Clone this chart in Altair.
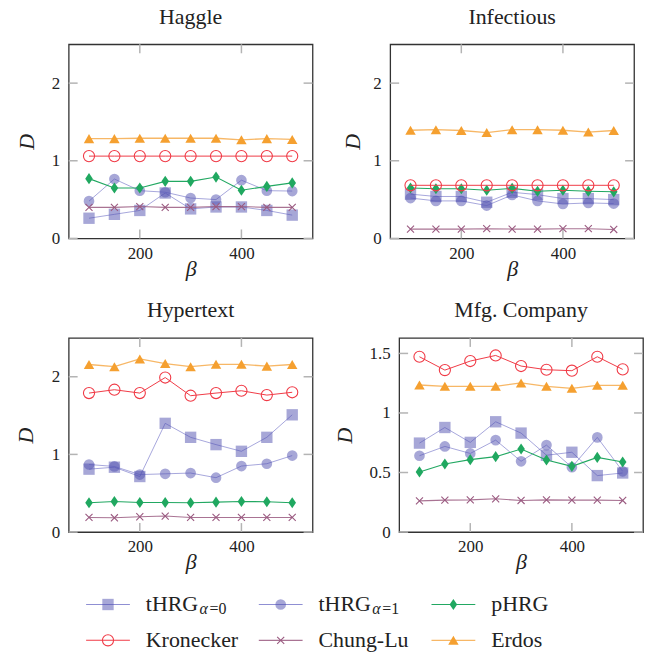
import altair as alt
import pandas as pd

# ---------------- data ----------------
beta = [100, 150, 200, 250, 300, 350, 400, 450, 500]
series = ["tHRG0", "tHRG1", "pHRG", "Kronecker", "Chung-Lu", "Erdos"]

haggle_thrg0 = [0.26, 0.31, 0.36, 0.585, 0.38, 0.405, 0.405, 0.36, 0.30]
haggle_thrg1 = [0.48, 0.765, 0.615, 0.595, 0.52, 0.50, 0.75, 0.615, 0.61]
haggle_phrg = [0.77, 0.65, 0.65, 0.735, 0.735, 0.79, 0.62, 0.67, 0.715]
haggle_kron = [1.06, 1.06, 1.06, 1.06, 1.06, 1.06, 1.06, 1.06, 1.06]
haggle_chung = [0.40, 0.40, 0.41, 0.40, 0.40, 0.41, 0.41, 0.40, 0.40]
haggle_erdos = [1.285, 1.285, 1.29, 1.29, 1.29, 1.29, 1.27, 1.285, 1.275]

infect_thrg0 = [0.57, 0.54, 0.54, 0.466, 0.594, 0.564, 0.513, 0.513, 0.50]
infect_thrg1 = [0.52, 0.483, 0.483, 0.423, 0.56, 0.483, 0.444, 0.457, 0.449]
infect_phrg = [0.65, 0.64, 0.64, 0.62, 0.645, 0.607, 0.62, 0.607, 0.60]
infect_kron = [0.684, 0.684, 0.684, 0.684, 0.684, 0.684, 0.684, 0.684, 0.684]
infect_chung = [0.12, 0.12, 0.12, 0.125, 0.12, 0.12, 0.125, 0.125, 0.115]
infect_erdos = [1.393, 1.40, 1.39, 1.363, 1.40, 1.40, 1.393, 1.37, 1.39]

hyper_thrg0 = [0.81, 0.835, 0.715, 1.40, 1.22, 1.126, 1.04, 1.22, 1.51]
hyper_thrg1 = [0.87, 0.845, 0.74, 0.75, 0.76, 0.70, 0.85, 0.88, 0.985]
hyper_phrg = [0.377, 0.394, 0.38, 0.38, 0.377, 0.385, 0.394, 0.39, 0.377]
hyper_kron = [1.79, 1.833, 1.79, 1.99, 1.756, 1.79, 1.82, 1.764, 1.80]
hyper_chung = [0.188, 0.184, 0.197, 0.206, 0.188, 0.188, 0.188, 0.188, 0.188]
hyper_erdos = [2.158, 2.13, 2.23, 2.17, 2.13, 2.16, 2.16, 2.137, 2.158]

mfg_thrg0 = [0.747, 0.878, 0.753, 0.926, 0.831, 0.645, 0.67, 0.474, 0.496]
mfg_thrg1 = [0.641, 0.719, 0.66, 0.772, 0.594, 0.73, 0.544, 0.795, 0.51]
mfg_phrg = [0.505, 0.571, 0.608, 0.633, 0.697, 0.605, 0.552, 0.627, 0.588]
mfg_kron = [1.472, 1.36, 1.436, 1.483, 1.394, 1.363, 1.355, 1.472, 1.366]
mfg_chung = [0.262, 0.268, 0.27, 0.279, 0.265, 0.27, 0.268, 0.268, 0.265]
mfg_erdos = [1.235, 1.224, 1.224, 1.224, 1.252, 1.224, 1.207, 1.232, 1.232]

x_ticks = [200, 400]
y_ticks_main = [0, 1, 2]
y_ticks_mfg = [0, 0.5, 1, 1.5]

legend_labels = ["tHRG", "tHRG", "pHRG", "Kronecker", "Chung-Lu", "Erdos"]
legend_subs = ["=0", "=1", "", "", "", ""]
legend_col = [0, 1, 2, 0, 1, 2]
legend_row = [0, 0, 0, 1, 1, 1]

# ---------------- styles ----------------
FONT = "Liberation Serif"
TICK = "#b4b4b4"
W, H = 245, 195
TL = 9

style = {
    "tHRG0": dict(lc="#6a6ac4", lw=0.8, lo=0.75, shape="square", size=130,
                  filled=True, pc="#5050b0", po=0.5),
    "tHRG1": dict(lc="#6a6ac4", lw=0.8, lo=0.75, shape="circle", size=115,
                  filled=True, pc="#5050b0", po=0.5),
    "pHRG": dict(lc="#22a862", lw=1.1, lo=1.0,
                 shape="M0,-1L0.68,0L0,1L-0.68,0Z", size=125,
                 filled=True, pc="#20a860", po=1.0),
    "Kronecker": dict(lc="#f03a46", lw=1.0, lo=1.0, shape="circle", size=125,
                      filled=False, pc="#f03a46", po=1.0),
    "Chung-Lu": dict(lc="#9a5a80", lw=1.1, lo=0.85,
                     shape="M-1,-1L1,1M-1,1L1,-1", size=50,
                     filled=False, pc="#9a5a80", po=1.0),
    "Erdos": dict(lc="#f5a540", lw=1.3, lo=0.8, shape="triangle-up", size=110,
                  filled=True, pc="#f5a030", po=1.0),
}


def long_df(vals):
    rows = []
    for s, v in zip(series, vals):
        for b, d in zip(beta, v):
            rows.append({"series": s, "beta": b, "D": d})
    return pd.DataFrame(rows)


def point_mark(base, st):
    if st["filled"]:
        return base.mark_point(shape=st["shape"], size=st["size"], filled=True,
                               color=st["pc"], opacity=st["po"], strokeWidth=0)
    return base.mark_point(shape=st["shape"], size=st["size"], filled=False,
                           color=st["pc"], opacity=st["po"], strokeWidth=1.1)


def panel(title, vals, ydom, yvals, ytp, yext):
    df = long_df(vals)
    xs = alt.Scale(domain=[60, 540], nice=False, zero=False)
    ys = alt.Scale(domain=ydom, nice=False, zero=False)
    x_axis = alt.Axis(values=x_ticks, title="β", ticks=False, tickSize=0,
                      domain=False, grid=False, labelFont=FONT, format="d",
                      labelFontSize=17, labelColor="#222", labelPadding=7,
                      minExtent=14, maxExtent=14, titlePadding=6,
                      titleFont=FONT, titleFontSize=22, titleFontStyle="italic",
                      titleFontWeight="normal", titleColor="#222")
    y_axis = alt.Axis(values=yvals, title="D", ticks=False, tickSize=0,
                      domain=False, grid=False, labelFont=FONT, format="~g",
                      labelFontSize=17, labelColor="#222", labelPadding=9,
                      minExtent=yext, maxExtent=yext, titlePadding=ytp,
                      titleFont=FONT, titleFontSize=22, titleFontStyle="italic",
                      titleFontWeight="normal", titleColor="#222")
    xt = pd.DataFrame({"t": x_ticks})
    yt = pd.DataFrame({"t": yvals})
    xenc_t = alt.X("t:Q", scale=xs, axis=x_axis)
    yenc_t = alt.Y("t:Q", scale=ys, axis=y_axis)
    layers = [
        alt.Chart(xt).mark_rule(color=TICK, strokeWidth=1.5).encode(
            x=xenc_t, y=alt.value(0), y2=alt.value(TL)),
        alt.Chart(xt).mark_rule(color=TICK, strokeWidth=1.5).encode(
            x=xenc_t, y=alt.value(H - TL), y2=alt.value(H)),
        alt.Chart(yt).mark_rule(color=TICK, strokeWidth=1.5).encode(
            y=yenc_t, x=alt.value(0), x2=alt.value(TL)),
        alt.Chart(yt).mark_rule(color=TICK, strokeWidth=1.5).encode(
            y=yenc_t, x=alt.value(W - TL), x2=alt.value(W)),
    ]
    for s in series:
        st = style[s]
        base = alt.Chart(df).transform_filter(alt.datum.series == s)
        enc = dict(x=alt.X("beta:Q", scale=xs, axis=x_axis),
                   y=alt.Y("D:Q", scale=ys, axis=y_axis))
        layers.append(base.mark_line(color=st["lc"], strokeWidth=st["lw"],
                                     opacity=st["lo"]).encode(**enc))
        layers.append(point_mark(base, st).encode(**enc))
    return alt.layer(*layers).properties(
        width=W, height=H,
        title=alt.TitleParams(title, font=FONT, fontSize=22, fontWeight="normal",
                              color="#222", offset=15, anchor="middle"))


p1 = panel("Haggle", [haggle_thrg0, haggle_thrg1, haggle_phrg, haggle_kron,
                      haggle_chung, haggle_erdos], [0, 2.5], y_ticks_main, 12, 18)
p2 = panel("Infectious", [infect_thrg0, infect_thrg1, infect_phrg, infect_kron,
                          infect_chung, infect_erdos], [0, 2.5], y_ticks_main, 8, 18)
p3 = panel("Hypertext", [hyper_thrg0, hyper_thrg1, hyper_phrg, hyper_kron,
                         hyper_chung, hyper_erdos], [0, 2.5], y_ticks_main, 13, 18)
p4 = panel("Mfg. Company", [mfg_thrg0, mfg_thrg1, mfg_phrg, mfg_kron,
                            mfg_chung, mfg_erdos], [0, 1.63], y_ticks_mfg, 13, 30)

# ---------------- legend ----------------
LW, LH = 560, 60
leg = pd.DataFrame({"series": series, "label": legend_labels, "sub": legend_subs,
                    "col": legend_col, "row": legend_row})
lx = alt.Scale(domain=[-0.2277, 3.0], nice=False, zero=False)
ly = alt.Scale(domain=[-0.3556, 1.3111], nice=False, zero=False, reverse=True)
lenc = dict(x=alt.X("col:Q", scale=lx, axis=None), y=alt.Y("row:Q", scale=ly, axis=None))
leg_layers = []
for s in series:
    st = style[s]
    base = alt.Chart(leg).transform_filter(alt.datum.series == s)
    leg_layers.append(base.mark_tick(orient="horizontal", size=44, thickness=st["lw"],
                                     color=st["lc"], opacity=st["lo"]).encode(**lenc))
    leg_layers.append(point_mark(base, st).encode(**lenc))
leg_layers.append(alt.Chart(leg).mark_text(
    align="left", baseline="middle", dx=38, font=FONT, fontSize=22, color="#222"
).encode(text="label:N", **lenc))
subs = alt.Chart(leg).transform_filter(alt.datum.sub != "")
leg_layers.append(subs.mark_text(
    align="left", baseline="alphabetic", dx=92, dy=10, font=FONT, fontSize=16,
    fontStyle="italic", color="#222").encode(text=alt.value("α"), **lenc))
leg_layers.append(subs.mark_text(
    align="left", baseline="alphabetic", dx=102, dy=10, font=FONT, fontSize=16,
    color="#222").encode(text="sub:N", **lenc))
legend = alt.layer(*leg_layers).properties(
    width=LW, height=LH, view=alt.ViewBackground(strokeOpacity=0))

row1 = alt.hconcat(p1, p2, spacing=26)
row2 = alt.hconcat(p3, p4, spacing=18)

chart = alt.vconcat(row1, row2, legend, spacing=18).properties(
    padding={"left": 14, "top": 3, "right": 0, "bottom": 0},
    background="white"
).configure_view(stroke="#333", strokeWidth=1.3)

chart.save("out.html", embed_options={"renderer": "svg", "actions": False})
